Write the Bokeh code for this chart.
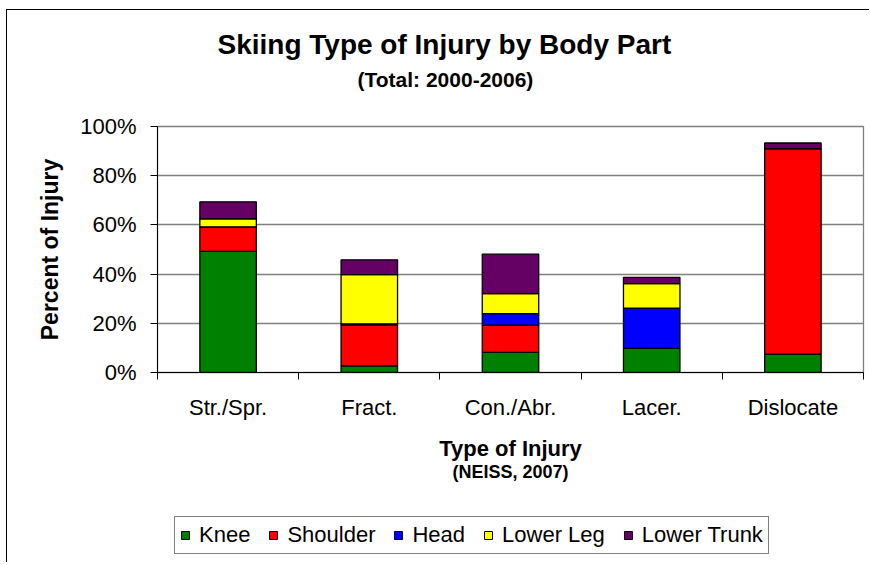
from bokeh.plotting import figure
from bokeh.layouts import column
from bokeh.models import (ColumnDataSource, FixedTicker, PrintfTickFormatter, Range1d,
                          Title, Legend)
from bokeh.embed import file_html
from bokeh.resources import INLINE

categories = ["Str./Spr.", "Fract.", "Con./Abr.", "Lacer.", "Dislocate"]
body_parts = ["Knee", "Shoulder", "Head", "Lower Leg", "Lower Trunk"]
knee = [49.2, 2.7, 8.2, 9.8, 7.5]
shoulder = [10.0, 16.7, 11.0, 0.0, 83.5]
head = [0.0, 0.4, 4.7, 16.4, 0.0]
lower_leg = [3.3, 20.0, 8.2, 9.9, 0.0]
lower_trunk = [6.9, 6.0, 16.0, 2.6, 2.3]
colors = ["#008000", "#FF0000", "#0000FF", "#FFFF00", "#650065"]
y_ticks = [0, 20, 40, 60, 80, 100]

FONT = "Liberation Sans"

src = ColumnDataSource(data=dict(
    x=[i + 0.5 for i in range(len(categories))],
    Knee=knee, Shoulder=shoulder, Head=head,
    **{"Lower Leg": lower_leg, "Lower Trunk": lower_trunk},
))

p = figure(frame_width=706, frame_height=246, output_backend="svg", toolbar_location=None,
           x_range=Range1d(0, len(categories)), y_range=Range1d(0, 100),
           min_border_left=150, min_border_right=6, min_border_top=116,
           min_border_bottom=110, title=None)

p.vbar_stack(body_parts, x="x", width=0.4, source=src, color=colors,
             line_color="black", line_width=1.3)

# grid / frame
p.xgrid.visible = False
p.ygrid.ticker = FixedTicker(ticks=y_ticks)
p.ygrid.grid_line_color = "#808080"
p.ygrid.grid_line_width = 1.3
p.outline_line_color = "#808080"
p.outline_line_width = 1.3

# y axis
ya = p.yaxis[0]
ya.ticker = FixedTicker(ticks=y_ticks)
ya.formatter = PrintfTickFormatter(format="%d%%")
ya.axis_line_color = "black"
ya.major_tick_line_color = "black"
ya.major_tick_out = 7
ya.major_tick_in = 0
ya.minor_tick_line_color = None
ya.major_label_standoff = 14
ya.major_label_text_font = FONT
ya.major_label_text_font_size = "22px"
ya.major_label_text_color = "black"
ya.axis_label = "Percent of Injury"
ya.axis_label_text_font = FONT
ya.axis_label_text_font_size = "23px"
ya.axis_label_text_font_style = "bold"
ya.axis_label_text_color = "black"
ya.axis_label_standoff = 14

# x axis: labels at band centres, ticks at band boundaries
xa = p.xaxis[0]
xa.ticker = FixedTicker(ticks=[i + 0.5 for i in range(len(categories))],
                        minor_ticks=list(range(len(categories) + 1)))
xa.major_label_overrides = {i + 0.5: c for i, c in enumerate(categories)}
xa.axis_line_color = "black"
xa.major_tick_line_color = None
xa.major_tick_out = 0
xa.major_tick_in = 0
xa.minor_tick_line_color = "black"
xa.minor_tick_out = 7
xa.minor_tick_in = 0
xa.major_label_standoff = 15
xa.major_label_text_font = FONT
xa.major_label_text_font_size = "22px"
xa.major_label_text_color = "black"
xa.axis_label = "Type of Injury"
xa.axis_label_text_font = FONT
xa.axis_label_text_font_size = "22px"
xa.axis_label_text_font_style = "bold"
xa.axis_label_text_color = "black"
xa.axis_label_standoff = 13

# source note under the axis title
p.add_layout(Title(text="(NEISS, 2007)", align="center", vertical_align="top",
                   text_font=FONT, text_font_size="18px", text_font_style="bold",
                   text_color="black", standoff=-4), "below")

# above panels: first added sits closest to the frame
p.add_layout(Title(text=" ", text_font_size="1px", standoff=29), "above")
p.add_layout(Title(text="(Total: 2000-2006)", align="left", offset=200,
                   text_font=FONT, text_font_size="21px", text_font_style="bold",
                   text_color="black", standoff=8), "above")
p.add_layout(Title(text="Skiing Type of Injury by Body Part", align="left", offset=60,
                   text_font=FONT, text_font_size="28px", text_font_style="bold",
                   text_color="black", standoff=4), "above")

# legend strip below the chart (proxy glyphs sit outside the visible range)
pl = figure(width=862, height=80, output_backend="svg", toolbar_location=None,
            x_axis_location=None, y_axis_location=None,
            x_range=Range1d(0, 1), y_range=Range1d(0, 1),
            min_border=0, title=None)
pl.xgrid.visible = False
pl.ygrid.visible = False
pl.outline_line_color = None
proxies = [pl.vbar(x=[-5], top=[-5], width=0.4, fill_color=c, line_color="black")
           for c in colors]
legend = Legend(items=[(name, [r]) for name, r in zip(body_parts, proxies)],
                orientation="horizontal", location=(17, 8),
                label_text_font=FONT, label_text_font_size="22px",
                label_text_color="black", glyph_width=10, glyph_height=10,
                label_standoff=9, spacing=18, padding=5, margin=0,
                border_line_color="black", border_line_width=1,
                background_fill_color="white")
pl.add_layout(legend, "center")

layout = column(p, pl, spacing=0)
layout.styles = {"border-left": "1px solid black", "border-top": "1px solid black",
                 "margin-left": "6px", "margin-top": "9px"}

open("out.html", "w").write(file_html(layout, INLINE))
